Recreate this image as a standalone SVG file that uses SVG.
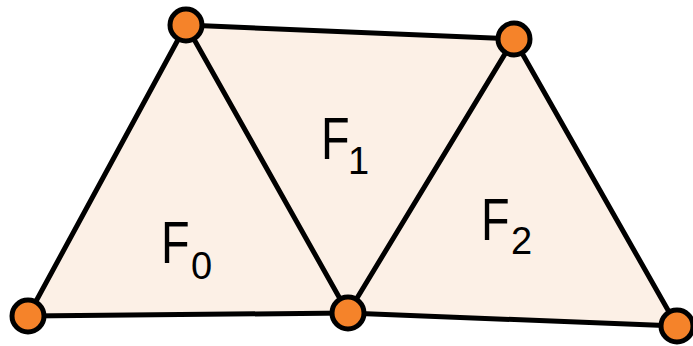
<svg xmlns="http://www.w3.org/2000/svg" width="693" height="346" viewBox="0 0 693 346">
<style>
.face{fill:#fcf0e6;stroke:none}
.edge{stroke:#000;stroke-width:5;stroke-linecap:round;fill:none}
.v{fill:#f5832a;stroke:#000;stroke-width:5}
.lbl{font-family:"Liberation Sans",Arial,sans-serif;fill:#000}
.big{font-size:60px}
.sub{font-size:38px}
</style>
<g id="faces">
<polygon id="F0" class="face" points="28,316 186,25 348,313"/>
<polygon id="F1" class="face" points="186,25 514,39 348,313"/>
<polygon id="F2" class="face" points="514,39 677,326 348,313"/>
</g>
<g id="connectors">
<line class="edge" x1="28" y1="316" x2="186" y2="25"/>
<line class="edge" x1="28" y1="316" x2="348" y2="313"/>
<line class="edge" x1="186" y1="25" x2="348" y2="313"/>
<line class="edge" x1="186" y1="25" x2="514" y2="39"/>
<line class="edge" x1="514" y1="39" x2="348" y2="313"/>
<line class="edge" x1="514" y1="39" x2="677" y2="326"/>
<line class="edge" x1="348" y1="313" x2="677" y2="326"/>
</g>
<g id="labels">
<g id="label-F0"><text class="lbl big" transform="translate(161,263) scale(0.78,1)">F</text><text class="lbl sub" x="191" y="279">0</text></g>
<g id="label-F1"><text class="lbl big" transform="translate(321,159) scale(0.78,1)">F</text><text class="lbl sub" x="348" y="174">1</text></g>
<g id="label-F2"><text class="lbl big" transform="translate(481,240) scale(0.78,1)">F</text><text class="lbl sub" x="511" y="254">2</text></g>
</g>
<g id="vertices">
<circle id="vA" class="v" cx="186" cy="25" r="16"/>
<circle id="vB" class="v" cx="514" cy="39" r="16"/>
<circle id="vC" class="v" cx="28" cy="316" r="16"/>
<circle id="vD" class="v" cx="348" cy="313" r="16"/>
<circle id="vE" class="v" cx="677" cy="326" r="16"/>
</g>
</svg>
